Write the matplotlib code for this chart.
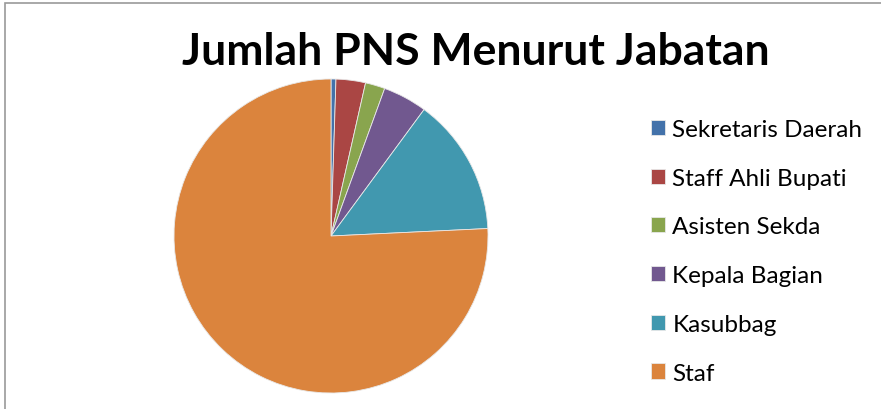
import matplotlib
matplotlib.use("Agg")
import matplotlib.pyplot as plt
from matplotlib.patches import Rectangle

# Jumlah PNS per jabatan
jabatan = ["Sekretaris Daerah", "Staff Ahli Bupati", "Asisten Sekda",
           "Kepala Bagian", "Kasubbag", "Staf"]
jumlah = [1, 6, 4, 9, 28, 150]
warna = ["#4372AA", "#AA4644", "#89A54E", "#71588F", "#4198AF", "#DB843D"]

W, H = 881, 410
fig = plt.figure(figsize=(W / 100, H / 100), dpi=100)
fig.patch.set_facecolor("white")

# bingkai abu-abu
fig.patches.append(Rectangle((5 / W, -0.1), 1.2, (H - 4) / H + 0.1,
                             transform=fig.transFigure, fill=False,
                             edgecolor="#9A9A9A", linewidth=1.2))

# pie: pusat (331, 237), jari-jari 157 px
cx, cy, r = 331, H - 237, 157
ax = fig.add_axes([(cx - r) / W, (cy - r) / H, 2 * r / W, 2 * r / H])
wedges, _ = ax.pie(jumlah, colors=warna, startangle=90, counterclock=False,
                   radius=1, wedgeprops=dict(edgecolor="#E8E8E8", linewidth=0.6))
ax.set_xlim(-1, 1)
ax.set_ylim(-1, 1)
ax.axis("off")

fig.text(476 / W, 1 - 52 / H, "Jumlah PNS Menurut Jabatan", ha="center",
         va="center", fontsize=32, fontweight="bold", family="Lato")

fig.legend(wedges, jabatan, loc="upper left",
           bbox_to_anchor=(651 / W, 1 - 120 / H), frameon=False,
           prop=dict(family="Lato", size=17.5), handlelength=0.58,
           handleheight=0.58, handletextpad=0.3, labelspacing=1.14,
           borderpad=0, borderaxespad=0)

plt.savefig("out.png", dpi=100)
